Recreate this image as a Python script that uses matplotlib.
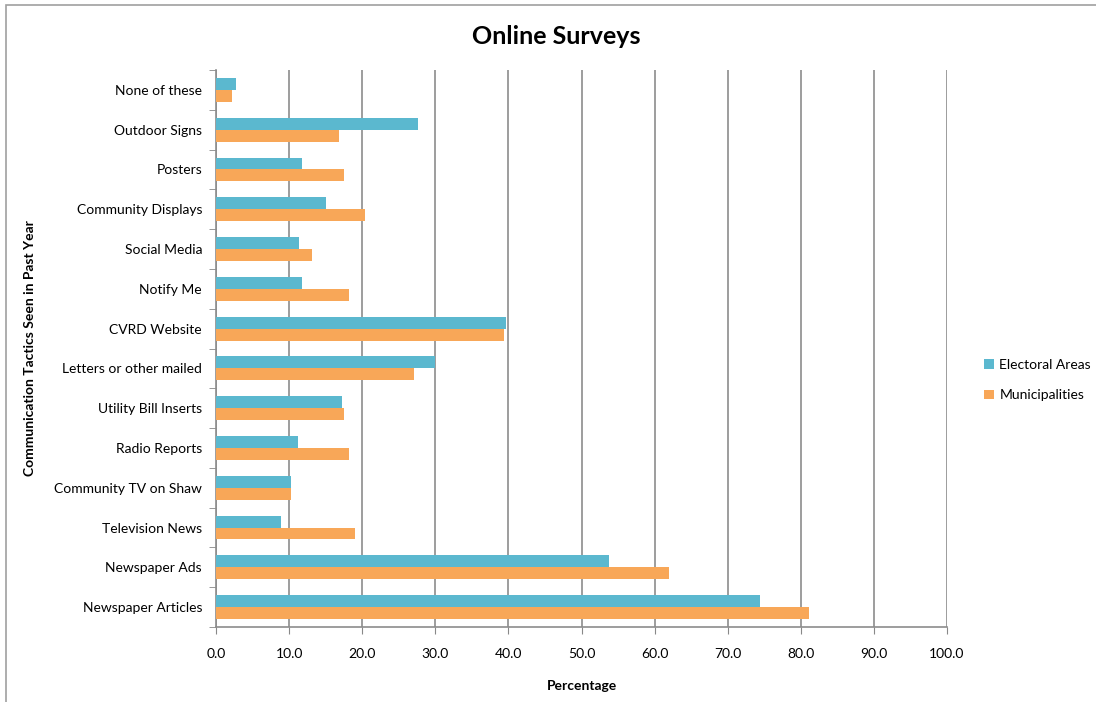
import numpy as np
import matplotlib.pyplot as plt
from matplotlib.patches import Rectangle

plt.rcParams['font.family'] = ['Lato', 'DejaVu Sans']

categories = ['None of these', 'Outdoor Signs', 'Posters', 'Community Displays',
              'Social Media', 'Notify Me', 'CVRD Website', 'Letters or other mailed',
              'Utility Bill Inserts', 'Radio Reports', 'Community TV on Shaw',
              'Television News', 'Newspaper Ads', 'Newspaper Articles']
electoral = [2.7, 27.6, 11.7, 15.0, 11.3, 11.7, 39.7, 30.0, 17.3, 11.2, 10.3, 8.9, 53.8, 74.4]
municipal = [2.2, 16.8, 17.5, 20.4, 13.1, 18.2, 39.4, 27.1, 17.5, 18.2, 10.2, 19.0, 62.0, 81.1]
xticks = np.arange(0, 101, 10)

W, H = 1096, 702
fig = plt.figure(figsize=(W / 100, H / 100), dpi=100)
ax = fig.add_axes([216 / W, 1 - 627 / H, (947 - 216) / W, (627 - 70) / H])

# categories run top to bottom
y = np.arange(len(categories))[::-1]
h = 0.3
ax.barh(y + h / 2, electoral, height=h, color='#5BB8CF', label='Electoral Areas', zorder=3)
ax.barh(y - h / 2, municipal, height=h, color='#F8A758', label='Municipalities', zorder=3)

ax.set_xlim(0, 100)
ax.set_ylim(-0.5, len(categories) - 0.5)
ax.set_xticks(xticks)
ax.set_xticklabels([f'{v:.1f}' for v in xticks], fontsize=10)
ax.set_yticks(y)
ax.set_yticklabels(categories, fontsize=10)
ax.set_yticks(np.arange(-0.5, len(categories), 1), minor=True)
ax.tick_params(axis='y', which='major', length=0, pad=10)
ax.tick_params(axis='y', which='minor', length=5, color='#888888', direction='out')
ax.tick_params(axis='x', length=5, color='#888888', direction='out', pad=10)

ax.grid(axis='x', color='#8c8c8c', linewidth=1.2, zorder=0)
for s in ['top', 'right']:
    ax.spines[s].set_visible(False)
for s in ['left', 'bottom']:
    ax.spines[s].set_color('#8c8c8c')
    ax.spines[s].set_linewidth(1.2)

ax.set_xlabel('Percentage', fontsize=10, fontweight='bold')
ax.xaxis.set_label_coords(0.5, -(680 - 627) / 557)
ax.set_ylabel('Communication Tactics Seen in Past Year', fontsize=10, fontweight='bold')
ax.yaxis.set_label_coords(-(216 - 36) / 731, 0.5)
fig.text(556 / W, 1 - 37 / H, 'Online Surveys', ha='center', va='center',
         fontsize=18, fontweight='bold')

ax.legend(loc='center left', bbox_to_anchor=((984 - 216) / 731, (627 - 380) / 557), frameon=False,
          fontsize=10, handlelength=0.7, handleheight=0.7, labelspacing=1.35, handletextpad=0.4,
          borderaxespad=0, borderpad=0)

# outer frame
fig.patches.append(Rectangle((6 / W, -0.01), 1.02, 1 - 5 / H + 0.01, transform=fig.transFigure,
                             fill=False, edgecolor='#a0a0a0', linewidth=1.2))

fig.savefig('out.png', dpi=100)
